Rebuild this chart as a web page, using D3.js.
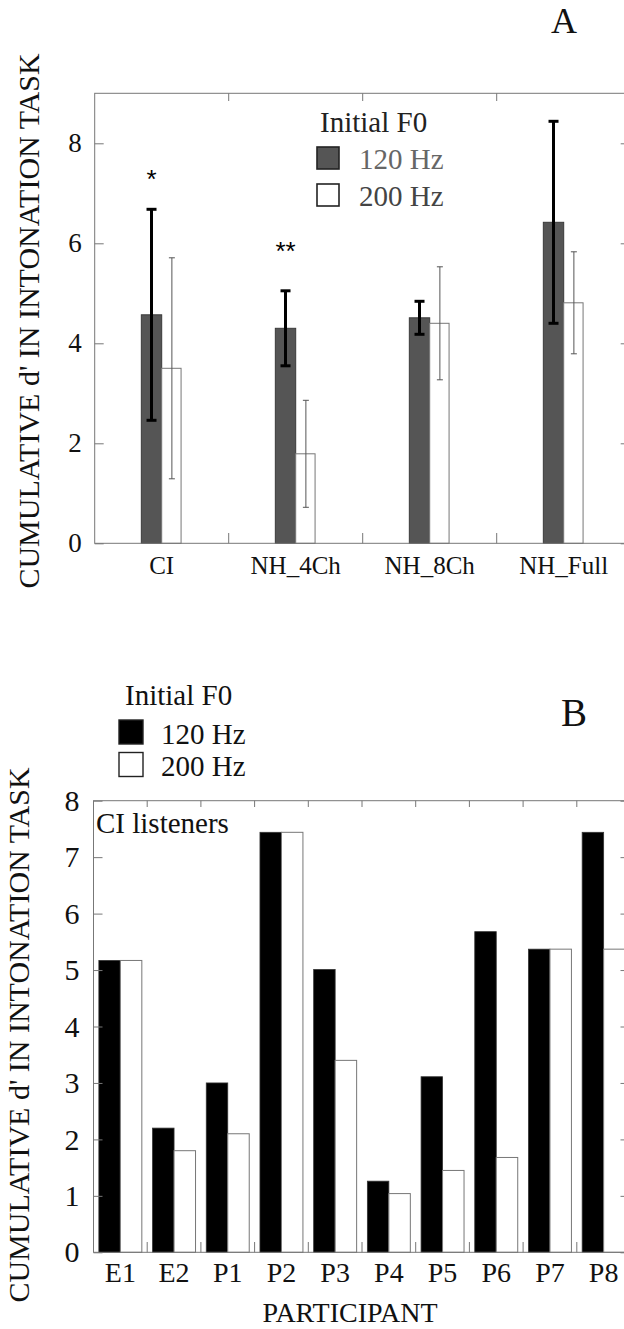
<!DOCTYPE html>
<html>
<head>
<meta charset="utf-8">
<script src="https://cdn.jsdelivr.net/npm/d3@7"></script>
<style>
  body { margin: 0; background: #fff; }
  svg { display: block; }
  .frame { fill: none; stroke: #777; stroke-width: 1; }
  .tick line { stroke: #777; }
</style>
</head>
<body>
<svg width="624" height="1329"></svg>
<script>
// Panel A: group means with error bars
var groupsA  = ["CI", "NH_4Ch", "NH_8Ch", "NH_Full"];
var meanA120 = [4.57, 4.30, 4.51, 6.42];
var errA120  = [2.11, 0.75, 0.33, 2.02];
var meanA200 = [3.50, 1.79, 4.40, 4.81];
var errA200  = [2.21, 1.07, 1.13, 1.02];
var starsA   = ["*", "**", "", ""];
var ticksA   = [0, 2, 4, 6, 8];

// Panel B: individual CI listeners
var participants = ["E1", "E2", "P1", "P2", "P3", "P4", "P5", "P6", "P7", "P8"];
var dB120 = [5.17, 2.20, 3.00, 7.44, 5.01, 1.26, 3.11, 5.68, 5.37, 7.44];
var dB200 = [5.17, 1.80, 2.10, 7.44, 3.40, 1.04, 1.45, 1.68, 5.37, 5.37];
var ticksB = [0, 1, 2, 3, 4, 5, 6, 7, 8];

var legendLabels = ["120 Hz", "200 Hz"];
var yTitle = "CUMULATIVE d' IN INTONATION TASK";
var serif = "'Liberation Serif', 'Times New Roman', serif";

var svg = d3.select("svg");

//---------------- Panel A ----------------
var gA = svg.append("g");
var xA = d3.scaleBand().domain(groupsA).range([94.7, 630.7]);
var yA = d3.scaleLinear().domain([0, 9]).range([543.3, 93.3]);
var bwA = xA.bandwidth() * 0.152;

// bars
gA.selectAll(".barDark").data(groupsA).enter().append("rect")
  .attr("x", function(d) { return xA(d) + xA.bandwidth()/2 - bwA; })
  .attr("y", function(d,i) { return yA(meanA120[i]); })
  .attr("width", bwA)
  .attr("height", function(d,i) { return yA(0) - yA(meanA120[i]); })
  .style("fill", "#555").style("stroke", "#3a3a3a").style("stroke-width", 1);

gA.selectAll(".barLight").data(groupsA).enter().append("rect")
  .attr("x", function(d) { return xA(d) + xA.bandwidth()/2; })
  .attr("y", function(d,i) { return yA(meanA200[i]); })
  .attr("width", bwA - 1)
  .attr("height", function(d,i) { return yA(0) - yA(meanA200[i]); })
  .style("fill", "#fff").style("stroke", "#777").style("stroke-width", 1);

// error bars
function errBars(g, means, errs, cx, capW, width, colour) {
  var e = g.selectAll(null).data(groupsA).enter().append("g");
  e.append("line")
    .attr("x1", cx).attr("x2", cx)
    .attr("y1", function(d,i) { return yA(means[i] + errs[i]); })
    .attr("y2", function(d,i) { return yA(means[i] - errs[i]); })
    .style("stroke", colour).style("stroke-width", width);
  [1, -1].forEach(function(s) {
    e.append("line")
      .attr("x1", function(d) { return cx(d) - capW/2; })
      .attr("x2", function(d) { return cx(d) + capW/2; })
      .attr("y1", function(d,i) { return yA(means[i] + s*errs[i]); })
      .attr("y2", function(d,i) { return yA(means[i] + s*errs[i]); })
      .style("stroke", colour).style("stroke-width", width);
  });
}
errBars(gA, meanA200, errA200, function(d) { return xA(d) + xA.bandwidth()/2 + bwA/2; }, 6, 1, "#555");
errBars(gA, meanA120, errA120, function(d) { return xA(d) + xA.bandwidth()/2 - bwA/2; }, 10, 3, "#000");

// frame and ticks
gA.append("rect").attr("class", "frame")
  .attr("x", 94.7).attr("y", 93.3).attr("width", 536).attr("height", 450);

gA.append("g").attr("transform", "translate(94.7,0)")
  .call(d3.axisLeft(yA).tickValues(ticksA).tickSize(-9).tickPadding(13))
  .call(function(g) { g.select(".domain").remove(); })
  .selectAll("text").style("font-size", "27px").attr("fill", "#111");

gA.append("g").attr("transform", "translate(630.7,0)")
  .call(d3.axisRight(yA).tickValues(ticksA).tickSize(-10).tickFormat(""))
  .call(function(g) { g.select(".domain").remove(); });

gA.selectAll(".vtick").data(groupsA.slice(1)).enter().append("g")
  .each(function(d) {
    var x = xA(d);
    d3.select(this).append("line").attr("x1", x).attr("x2", x).attr("y1", 93.3).attr("y2", 101).style("stroke", "#777");
    d3.select(this).append("line").attr("x1", x).attr("x2", x).attr("y1", 543.3).attr("y2", 533).style("stroke", "#777");
  });

gA.append("g").attr("transform", "translate(0,543.3)")
  .call(d3.axisBottom(xA).tickSize(0))
  .call(function(g) { g.select(".domain").remove(); })
  .selectAll("text")
    .attr("y", 31).attr("dy", 0)
    .style("font-size", "25px").attr("fill", "#111");

// legend A
var legA = gA.append("g");
legA.append("text").attr("x", 320).attr("y", 132).style("font-size", "29px").attr("fill", "#222").text("Initial F0");
legA.selectAll(".sw").data(legendLabels).enter().append("rect")
  .attr("x", 317).attr("y", function(d,i) { return 147 + i*37; })
  .attr("width", 22).attr("height", 22)
  .style("fill", function(d,i) { return i == 0 ? "#555" : "#fff"; })
  .style("stroke", "#222").style("stroke-width", 1.6);
legA.selectAll(".lt").data(legendLabels).enter().append("text")
  .attr("x", 359).attr("y", function(d,i) { return 169 + i*37; })
  .style("font-size", "29px")
  .attr("fill", function(d,i) { return i == 0 ? "#666" : "#444"; })
  .text(function(d) { return d; });

gA.append("text").attr("x", 551).attr("y", 33).style("font-size", "36px").attr("fill", "#111").text("A");

gA.append("text")
  .attr("transform", "translate(39,321) rotate(-90)")
  .attr("text-anchor", "middle").style("font-size", "30px").attr("fill", "#111")
  .text(yTitle);

//---------------- Panel B ----------------
var gB = svg.append("g");
var xB = d3.scaleBand().domain(participants).range([93.5, 630.5]);
var yB = d3.scaleLinear().domain([0, 8]).range([1252.3, 800.7]);
var bwB = xB.bandwidth() * 0.4;

gB.selectAll(".b120").data(participants).enter().append("rect")
  .attr("x", function(d) { return xB(d) + xB.bandwidth()/2 - bwB; })
  .attr("y", function(d,i) { return yB(dB120[i]); })
  .attr("width", bwB)
  .attr("height", function(d,i) { return yB(0) - yB(dB120[i]); })
  .style("fill", "#000").style("stroke", "#333").style("stroke-width", 0.8);

gB.selectAll(".b200").data(participants).enter().append("rect")
  .attr("x", function(d) { return xB(d) + xB.bandwidth()/2; })
  .attr("y", function(d,i) { return yB(dB200[i]); })
  .attr("width", bwB)
  .attr("height", function(d,i) { return yB(0) - yB(dB200[i]); })
  .style("fill", "#fff").style("stroke", "#777").style("stroke-width", 1);

gB.append("rect").attr("class", "frame")
  .attr("x", 93.5).attr("y", 800.7).attr("width", 537).attr("height", 451.6);

gB.append("g").attr("transform", "translate(93.5,0)")
  .call(d3.axisLeft(yB).tickValues(ticksB).tickSize(-9).tickPadding(14))
  .call(function(g) { g.select(".domain").remove(); })
  .selectAll("text").style("font-size", "30px").attr("fill", "#111");

gB.append("g").attr("transform", "translate(630.5,0)")
  .call(d3.axisRight(yB).tickValues(ticksB).tickSize(-10).tickFormat(""))
  .call(function(g) { g.select(".domain").remove(); });

gB.selectAll(".vtick").data(participants.slice(1)).enter().append("g")
  .each(function(d) {
    var x = xB(d);
    d3.select(this).append("line").attr("x1", x).attr("x2", x).attr("y1", 800.7).attr("y2", 807).style("stroke", "#777");
    d3.select(this).append("line").attr("x1", x).attr("x2", x).attr("y1", 1252.3).attr("y2", 1242).style("stroke", "#777");
  });

gB.append("g").attr("transform", "translate(0,1252.3)")
  .call(d3.axisBottom(xB).tickSize(0))
  .call(function(g) { g.select(".domain").remove(); })
  .selectAll("text")
    .attr("y", 29.5).attr("dy", 0)
    .style("font-size", "28px").attr("fill", "#111");

gB.append("text").attr("x", 350).attr("y", 1322).attr("text-anchor", "middle")
  .style("font-size", "28px").attr("fill", "#111").text("PARTICIPANT");

gB.append("text").attr("x", 96).attr("y", 833).style("font-size", "29px").attr("fill", "#111").text("CI listeners");

var legB = gB.append("g");
legB.append("text").attr("x", 125).attr("y", 705).style("font-size", "29px").attr("fill", "#111").text("Initial F0");
legB.selectAll(".sw").data(legendLabels).enter().append("rect")
  .attr("x", 119).attr("y", function(d,i) { return 720 + i*32.5; })
  .attr("width", 24).attr("height", 24)
  .style("fill", function(d,i) { return i == 0 ? "#000" : "#fff"; })
  .style("stroke", "#222").style("stroke-width", 1.4);
legB.selectAll(".lt").data(legendLabels).enter().append("text")
  .attr("x", 161).attr("y", function(d,i) { return 744 + i*31.5; })
  .style("font-size", "29px").attr("fill", "#111")
  .text(function(d) { return d; });

gB.append("text").attr("x", 561).attr("y", 726).style("font-size", "39px").attr("fill", "#111").text("B");

gB.append("text")
  .attr("transform", "translate(29,1035) rotate(-90)")
  .attr("text-anchor", "middle").style("font-size", "30px").attr("fill", "#111")
  .text(yTitle);

// every text in Times-like serif
svg.selectAll("text").style("font-family", serif);

// significance stars (sans asterisks)
gA.selectAll(".star").data(groupsA).enter().append("text")
  .attr("x", function(d) { return xA(d) + xA.bandwidth()/2 - bwA/2; })
  .attr("y", function(d,i) { return i == 0 ? 188 : 260; })
  .attr("text-anchor", "middle")
  .style("font-family", "'Liberation Sans', Arial, sans-serif")
  .style("font-size", "26px")
  .text(function(d,i) { return starsA[i]; });
</script>
</body>
</html>
